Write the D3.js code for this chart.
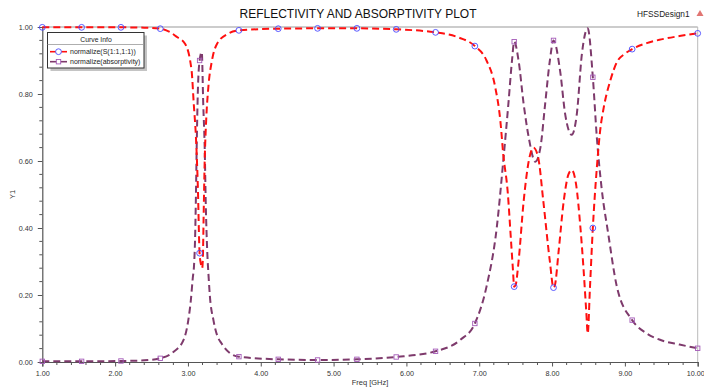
<!DOCTYPE html>
<html>
<head>
<meta charset="utf-8">
<script src="https://cdn.jsdelivr.net/npm/d3@7"></script>
<style>
  html, body { margin: 0; padding: 0; background: #fff; }
  svg { display: block; font-family: "Liberation Sans", Arial, sans-serif; }
</style>
</head>
<body>
<svg id="chart" width="704" height="391"></svg>
<script>
// Frequency sweep (GHz) and normalized |S11| reflectivity
const freqS = [1.00, 1.54, 2.08, 2.40, 2.62, 2.75, 2.85, 2.96, 3.05, 3.08, 3.11, 3.135, 3.16, 3.18, 3.195,
  3.205, 3.215, 3.23, 3.25, 3.28, 3.33, 3.40, 3.55, 3.70, 4.24, 4.78, 5.32, 5.86, 6.40, 6.70, 6.94,
  7.10, 7.22, 7.29, 7.33, 7.39, 7.44, 7.46, 7.48, 7.50, 7.54, 7.61, 7.68, 7.745, 7.81, 7.88, 7.97,
  8.02, 8.04, 8.09, 8.16, 8.225, 8.27, 8.33, 8.39, 8.43, 8.47, 8.49, 8.52, 8.56, 8.615, 8.66, 8.71,
  8.80, 8.89, 9.00, 9.10, 9.30, 9.50, 9.75, 10.00];
const reflect = [0.999, 0.999, 0.999, 0.998, 0.995, 0.985, 0.97, 0.95, 0.87, 0.77, 0.67, 0.53, 0.325, 0.29, 0.28,
  0.31, 0.43, 0.60, 0.72, 0.82, 0.90, 0.95, 0.98, 0.99, 0.995, 0.996, 0.996, 0.993, 0.984, 0.97, 0.943,
  0.90, 0.82, 0.72, 0.62, 0.51, 0.35, 0.285, 0.225, 0.23, 0.30, 0.48, 0.60, 0.64, 0.61, 0.48, 0.30,
  0.222, 0.23, 0.33, 0.48, 0.56, 0.573, 0.53, 0.40, 0.285, 0.15, 0.085, 0.22, 0.40, 0.58, 0.69, 0.76,
  0.84, 0.895, 0.92, 0.934, 0.952, 0.963, 0.973, 0.981];

// Frequency sweep (GHz) and normalized absorptivity
const freqA = [1.00, 1.54, 2.08, 2.40, 2.62, 2.80, 2.94, 3.005, 3.04, 3.066, 3.084, 3.097, 3.11, 3.12, 3.135,
  3.16, 3.19, 3.21, 3.23, 3.245, 3.265, 3.285, 3.30, 3.35, 3.40, 3.46, 3.58, 3.70, 4.24, 4.78, 5.32,
  5.86, 6.40, 6.74, 6.94, 7.10, 7.24, 7.33, 7.40, 7.45, 7.48, 7.54, 7.61, 7.68, 7.77, 7.84, 7.905,
  7.97, 8.02, 8.11, 8.18, 8.27, 8.34, 8.41, 8.49, 8.56, 8.615, 8.68, 8.77, 8.89, 9.10, 9.30, 9.50,
  9.75, 10.00];
const absorb = [0.002, 0.002, 0.003, 0.005, 0.011, 0.03, 0.066, 0.125, 0.185, 0.25, 0.29, 0.36, 0.50, 0.64, 0.80,
  0.90, 0.925, 0.77, 0.64, 0.47, 0.33, 0.25, 0.20, 0.125, 0.08, 0.056, 0.026, 0.016, 0.008, 0.006, 0.008,
  0.015, 0.032, 0.066, 0.115, 0.225, 0.40, 0.60, 0.77, 0.90, 0.956, 0.90, 0.77, 0.67, 0.598, 0.64, 0.77,
  0.90, 0.96, 0.87, 0.74, 0.678, 0.74, 0.92, 0.996, 0.85, 0.67, 0.52, 0.385, 0.225, 0.125, 0.085, 0.065,
  0.052, 0.041];

// Sweep points that carry a symbol
const markerFreq = [1.00, 1.54, 2.08, 2.62, 3.16, 3.70, 4.24, 4.78, 5.32, 5.86, 6.40, 6.94, 7.48, 8.02, 8.56, 9.10, 10.00];

// Axis ticks
const xTicks = [1, 2, 3, 4, 5, 6, 7, 8, 9, 10];
const yTicks = [0, 0.2, 0.4, 0.6, 0.8, 1.0];

const svg = d3.select("#chart");
const x = d3.scaleLinear().domain([1, 10]).range([42.3, 697.7]);
const y = d3.scaleLinear().domain([0, 1]).range([362, 27]);
const axisColor = "#555";

// Title and design name
svg.append("text").attr("x", 358).attr("y", 18).attr("text-anchor", "middle")
  .attr("font-size", 12).attr("fill", "#111").text("REFLECTIVITY AND ABSORPTIVITY PLOT");
svg.append("text").attr("x", 637).attr("y", 16.5)
  .attr("font-size", 8.3).attr("fill", "#222").text("HFSSDesign1");
svg.append("path").attr("d", "M700,10 L703.5,16 L696.5,16 Z").attr("fill", "#d9534f").attr("opacity", 0.8);

// Frame: light top/right borders
svg.append("line").attr("x1", x(1)).attr("x2", x(10)).attr("y1", y(1)).attr("y2", y(1))
  .attr("stroke", "#9a9a9a").attr("stroke-width", 1.2);
svg.append("line").attr("x1", x(10)).attr("x2", x(10)).attr("y1", y(1)).attr("y2", y(0))
  .attr("stroke", "#bbb").attr("stroke-width", 1);

// X axis with minor ticks every 0.2 GHz
const xAxis = d3.axisBottom(x).tickValues(xTicks).tickFormat(d3.format(".2f")).tickSize(4.5).tickPadding(4);
const gx = svg.append("g").attr("transform", `translate(0,${y(0)})`).call(xAxis);
gx.select(".domain").attr("stroke", axisColor).attr("stroke-width", 1.2);
gx.selectAll(".tick line").attr("stroke", axisColor);
gx.selectAll(".tick text").attr("font-size", 7.2).attr("fill", "#333").attr("font-family", "Liberation Sans, Arial, sans-serif");
// keep the last label inside the page edge
gx.selectAll(".tick text").filter(d => d === 10).attr("text-anchor", "end").attr("dx", "0.9em");
const xMinor = d3.range(1, 10.001, 0.2).filter(v => Math.abs(v - Math.round(v)) > 1e-6);
svg.append("g").selectAll("line").data(xMinor).join("line")
  .attr("x1", d => x(d)).attr("x2", d => x(d)).attr("y1", y(0)).attr("y2", y(0) + 3)
  .attr("stroke", axisColor);

// Y axis with minor ticks every 0.04
const yAxis = d3.axisLeft(y).tickValues(yTicks).tickFormat(d3.format(".2f")).tickSize(4.5).tickPadding(5);
const gy = svg.append("g").attr("transform", `translate(${x(1)},0)`).call(yAxis);
gy.select(".domain").attr("stroke", axisColor).attr("stroke-width", 1.2);
gy.selectAll(".tick line").attr("stroke", axisColor);
gy.selectAll(".tick text").attr("font-size", 7.2).attr("fill", "#333").attr("font-family", "Liberation Sans, Arial, sans-serif");
const yMinor = d3.range(0, 1.0001, 0.04).filter(v => Math.abs(v * 5 - Math.round(v * 5)) > 1e-6);
svg.append("g").selectAll("line").data(yMinor).join("line")
  .attr("x1", x(1) - 3).attr("x2", x(1)).attr("y1", d => y(d)).attr("y2", d => y(d))
  .attr("stroke", axisColor);

// Axis titles
svg.append("text").attr("x", 370).attr("y", 385).attr("text-anchor", "middle")
  .attr("font-size", 7.5).attr("fill", "#333").text("Freq [GHz]");
svg.append("text").attr("transform", `translate(15,${y(0.5)}) rotate(-90)`).attr("text-anchor", "middle")
  .attr("font-size", 7.5).attr("fill", "#333").text("Y1");

// Curves
const seriesS = freqS.map((f, i) => ({ f, v: reflect[i] }));
const seriesA = freqA.map((f, i) => ({ f, v: absorb[i] }));
const line = d3.line().x(d => x(d.f)).y(d => y(d.v)).curve(d3.curveMonotoneX);

const redColor = "#ff1010";
const purpleColor = "#7e3a6c";

svg.append("path").datum(seriesA).attr("d", line).attr("fill", "none")
  .attr("stroke", purpleColor).attr("stroke-width", 2).attr("stroke-dasharray", "7,4");
svg.append("path").datum(seriesS).attr("d", line).attr("fill", "none")
  .attr("stroke", redColor).attr("stroke-width", 2).attr("stroke-dasharray", "7,4");

// Markers at selected sweep points
const sAt = f => reflect[freqS.indexOf(f)];
const aAt = f => absorb[freqA.indexOf(f)];
svg.append("g").selectAll("rect").data(markerFreq).join("rect")
  .attr("x", d => x(d) - 2.2).attr("y", d => y(aAt(d)) - 2.2).attr("width", 4.4).attr("height", 4.4)
  .attr("fill", "none").attr("stroke", "#a45ab8").attr("stroke-width", 0.9);
svg.append("g").selectAll("circle").data(markerFreq).join("circle")
  .attr("cx", d => x(d)).attr("cy", d => y(sAt(d))).attr("r", 2.9)
  .attr("fill", "none").attr("stroke", "#4a4aff").attr("stroke-width", 0.9);

// Legend
const lg = svg.append("g");
lg.append("rect").attr("x", 50.5).attr("y", 35.5).attr("width", 96.5).attr("height", 35.5).attr("fill", "#c4c4c4");
lg.append("rect").attr("x", 47.5).attr("y", 32.5).attr("width", 96.5).attr("height", 35.5)
  .attr("fill", "#fff").attr("stroke", "#333").attr("stroke-width", 1);
lg.append("line").attr("x1", 47.5).attr("x2", 144).attr("y1", 44.5).attr("y2", 44.5)
  .attr("stroke", "#999").attr("stroke-width", 0.8);
lg.append("text").attr("x", 96).attr("y", 41.5).attr("text-anchor", "middle")
  .attr("font-size", 6.8).attr("fill", "#222").text("Curve Info");
const legendItems = [
  { label: "normalize(S(1:1,1:1))", color: redColor, mark: "circle", yy: 51.7 },
  { label: "normalize(absorptivity)", color: purpleColor, mark: "square", yy: 61.7 }
];
legendItems.forEach(it => {
  lg.append("line").attr("x1", 50).attr("x2", 67).attr("y1", it.yy).attr("y2", it.yy)
    .attr("stroke", it.color).attr("stroke-width", 1.6);
  if (it.mark === "circle") {
    lg.append("circle").attr("cx", 58.5).attr("cy", it.yy).attr("r", 2.9)
      .attr("fill", "#fff").attr("stroke", "#4a4aff").attr("stroke-width", 0.9);
  } else {
    lg.append("rect").attr("x", 56.3).attr("y", it.yy - 2.2).attr("width", 4.4).attr("height", 4.4)
      .attr("fill", "#fff").attr("stroke", "#a45ab8").attr("stroke-width", 0.9);
  }
  lg.append("text").attr("x", 70).attr("y", it.yy + 2.5).attr("font-size", 7)
    .attr("fill", "#222").text(it.label);
});
</script>
</body>
</html>
